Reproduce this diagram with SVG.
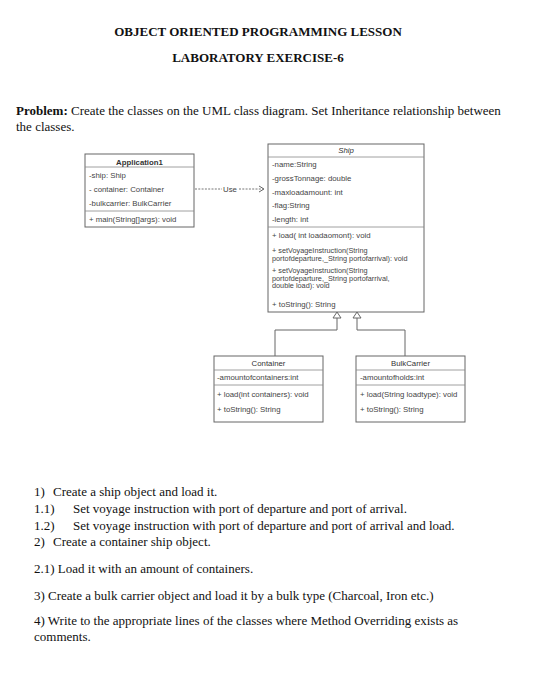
<svg xmlns="http://www.w3.org/2000/svg" width="557" height="700" viewBox="0 0 557 700">
<style>
.doc{font-family:"Liberation Serif","Times New Roman",serif;font-size:13px;fill:#111}
.title{font-family:"Liberation Serif","Times New Roman",serif;font-size:13px;font-weight:bold;fill:#111;text-anchor:middle}
.box{fill:#fff;stroke:#666;stroke-width:1}
.div{stroke:#888;stroke-width:0.8}
.t{font-family:"Liberation Sans",Arial,sans-serif;font-size:7.8px;fill:#444}
.m{font-family:"Liberation Sans",Arial,sans-serif;font-size:7.3px;fill:#444}
.h{font-family:"Liberation Sans",Arial,sans-serif;font-size:7.8px;fill:#333;text-anchor:middle}
.conn{fill:none;stroke:#666;stroke-width:1}
.dash{fill:none;stroke:#666;stroke-width:0.9;stroke-dasharray:2 1.3}
</style>
<rect width="557" height="700" fill="#fff"/>

<g id="header">
<text class="title" x="258" y="36">OBJECT ORIENTED PROGRAMMING LESSON</text>
<text class="title" x="258" y="62">LABORATORY EXERCISE-6</text>
<text class="doc" x="16" y="115"><tspan font-weight="bold">Problem:</tspan>  Create the classes on the UML class diagram. Set Inheritance relationship between</text>
<text class="doc" x="16" y="131">the classes.</text>
</g>

<g id="connectors">
<line class="dash" x1="195" y1="189" x2="222" y2="189"/>
<text class="t" x="230" y="191.5" text-anchor="middle" font-size="7">Use</text>
<line class="dash" x1="239" y1="189" x2="263" y2="189"/>
<polyline class="conn" points="259,186 264,189 259,192"/>
<polyline class="conn" points="337,318 337,330 275,330 275,356"/>
<polygon points="337,312 333,318 341,318" fill="#fff" stroke="#666" stroke-width="1"/>
<polyline class="conn" points="357,318 357,330 405,330 405,356"/>
<polygon points="357,312 353,318 361,318" fill="#fff" stroke="#666" stroke-width="1"/>
</g>

<g id="Application1">
<rect class="box" x="85" y="154" width="109" height="73"/>
<line class="div" x1="85" y1="167" x2="194" y2="167"/>
<line class="div" x1="85" y1="211" x2="194" y2="211"/>
<text class="h" x="139.5" y="165" font-weight="bold">Application1</text>
<text class="t" x="89" y="178">-ship: Ship</text>
<text class="t" x="89" y="192">- container: Container</text>
<text class="t" x="89" y="206">-bulkcarrier: BulkCarrier</text>
<text class="t" x="89" y="222">+ main(String[]args): void</text>
</g>

<g id="Ship">
<rect class="box" x="268" y="144" width="156" height="168"/>
<line class="div" x1="268" y1="157" x2="424" y2="157"/>
<line class="div" x1="268" y1="227" x2="424" y2="227"/>
<text class="h" x="346" y="153" font-style="italic">Ship</text>
<text class="t" x="272" y="167">-name:String</text>
<text class="t" x="272" y="181">-grossTonnage: double</text>
<text class="t" x="272" y="195">-maxloadamount: int</text>
<text class="t" x="272" y="208">-flag:String</text>
<text class="t" x="272" y="222">-length: int</text>
<text class="t" x="272" y="238">+ load( int loadaomont): void</text>
<text class="m" x="272" y="253">+ setVoyageInstruction(String</text>
<text class="m" x="272" y="260.5">portofdeparture,_String portofarrival): void</text>
<text class="m" x="272" y="273">+ setVoyageInstruction(String</text>
<text class="m" x="272" y="280.5">portofdeparture,_String portofarrival,</text>
<text class="m" x="272" y="288">double load): void</text>
<text class="t" x="272" y="307">+ toString(): String</text>
</g>

<g id="Container">
<rect class="box" x="214" y="356" width="109" height="66"/>
<line class="div" x1="214" y1="370" x2="323" y2="370"/>
<line class="div" x1="214" y1="385" x2="323" y2="385"/>
<text class="h" x="268.5" y="366">Container</text>
<text class="t" x="217" y="380">-amountofcontainers:int</text>
<text class="t" x="217" y="397">+ load(int containers): void</text>
<text class="t" x="217" y="412">+ toString(): String</text>
</g>

<g id="BulkCarrier">
<rect class="box" x="356" y="356" width="109" height="66"/>
<line class="div" x1="356" y1="370" x2="465" y2="370"/>
<line class="div" x1="356" y1="385" x2="465" y2="385"/>
<text class="h" x="410.5" y="366">BulkCarrier</text>
<text class="t" x="360" y="380">-amountofholds:int</text>
<text class="t" x="360" y="397">+ load(String loadtype): void</text>
<text class="t" x="360" y="412">+ toString(): String</text>
</g>

<g id="tasks">
<text class="doc" x="34" y="496">1)<tspan x="53">Create a ship object and load it.</tspan></text>
<text class="doc" x="34" y="513">1.1)<tspan x="73">Set voyage instruction with port of departure and port of arrival.</tspan></text>
<text class="doc" x="34" y="530">1.2)<tspan x="73">Set voyage instruction with port of departure and port of arrival and load.</tspan></text>
<text class="doc" x="34" y="546">2)<tspan x="53">Create a container ship object.</tspan></text>
<text class="doc" x="34" y="573">2.1) Load it with an amount of containers.</text>
<text class="doc" x="34" y="600">3) Create a bulk carrier object and load it by a bulk type (Charcoal, Iron etc.)</text>
<text class="doc" x="34" y="625">4) Write to the appropriate lines of the classes where Method Overriding exists as</text>
<text class="doc" x="34" y="641">comments.</text>
</g>
</svg>
